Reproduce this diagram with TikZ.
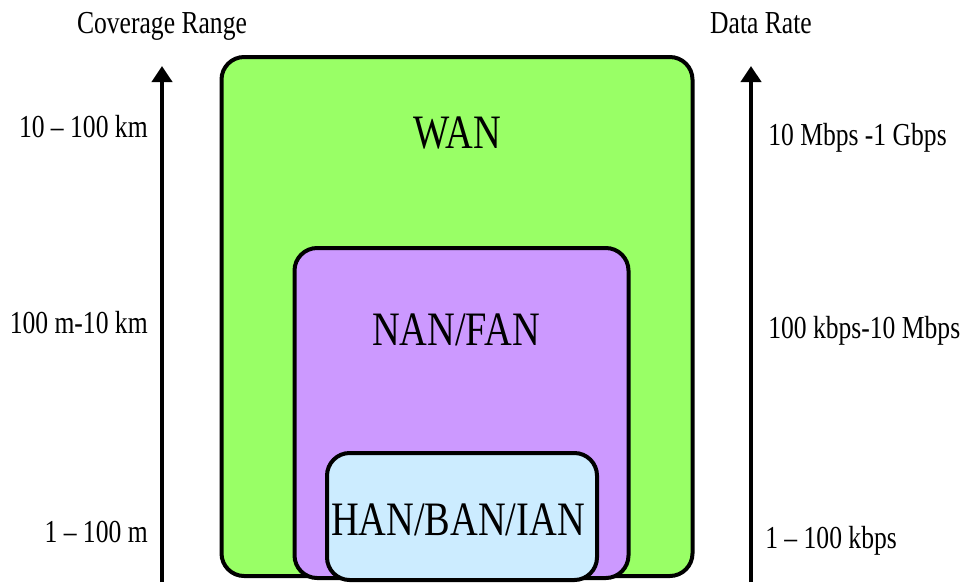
\documentclass[tikz,border=0pt]{standalone}
\usepackage{fontspec}
\setmainfont[FakeStretch=0.8]{Liberation Serif}
\usetikzlibrary{positioning,arrows.meta}
\definecolor{wangreen}{RGB}{153,255,102}
\definecolor{nanpurple}{RGB}{204,153,255}
\definecolor{hanblue}{RGB}{204,236,255}
\tikzset{
  scalearrow/.style={-{Triangle[width=15pt,length=12pt]}, line width=3pt},
  netbox/.style={draw, rounded corners=17pt, line width=3pt, inner sep=0pt},
  wanbox/.style={netbox, fill=wangreen},
  nanbox/.style={netbox, fill=nanpurple},
  hanbox/.style={netbox, fill=hanblue},
  netlabel/.style={anchor=base, inner sep=0pt, font=\fontsize{36pt}{40pt}\selectfont},
  scalelabel/.style={anchor=base, inner sep=0pt, font=\fontsize{24pt}{28pt}\selectfont}
}

\begin{document}
\begin{tikzpicture}[x=0.75pt, y=-0.75pt]
  \useasboundingbox (0,0) rectangle (969,582);
  % nested networks
  \node[wanbox, minimum width=353.25pt, minimum height=389.25pt] (wan) at (457,316.5) {};
  \node[nanbox, minimum width=250.5pt, minimum height=247.5pt] (nan) at (461.5,413) {};
  \node[hanbox, minimum width=202.5pt, minimum height=95.25pt] (han) at (462,516.5) {};
  \node[netlabel] (wantext) at (457,148) {WAN};
  \node[netlabel] (nantext) at (456,345) {NAN/FAN};
  \node[netlabel] (hantext) at (458,535) {HAN/BAN/IAN};
  % coverage axis
  \coordinate (covbot) at (162,582);
  \coordinate (covtop) at (162,66);
  \draw[scalearrow] (covbot) -- (covtop);
  \node[scalelabel] (covtitle) at (162,33) {Coverage Range};
  \node[scalelabel, anchor=base east] (cov1) at (148,137) {10 – 100 km};
  \node[scalelabel, anchor=base east] (cov2) at (148,333) {100 m-10 km};
  \node[scalelabel, anchor=base east] (cov3) at (148,542) {1 – 100 m};
  % data rate axis
  \coordinate (ratebot) at (751,582);
  \coordinate (ratetop) at (751,66);
  \draw[scalearrow] (ratebot) -- (ratetop);
  \node[scalelabel] (ratetitle) at (761,33) {Data Rate};
  \node[scalelabel, anchor=base west] (rate1) at (768,145) {10 Mbps -1 Gbps};
  \node[scalelabel, anchor=base west] (rate2) at (768,338) {100 kbps-10 Mbps};
  \node[scalelabel, anchor=base west] (rate3) at (765,548) {1 – 100 kbps};
\end{tikzpicture}
\end{document}
